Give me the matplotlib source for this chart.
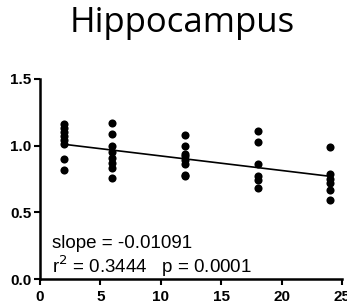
import matplotlib.pyplot as plt
import numpy as np

# Values (age groups vs. relative hippocampus value)
x_groups = [2, 6, 12, 18, 24]
y_values = [
    [1.16, 1.13, 1.10, 1.07, 1.04, 1.01, 0.90, 0.82],
    [1.17, 1.09, 1.00, 0.95, 0.91, 0.87, 0.83, 0.76],
    [1.08, 1.00, 0.94, 0.92, 0.89, 0.86, 0.78, 0.77],
    [1.11, 1.03, 0.86, 0.77, 0.74, 0.68],
    [0.99, 0.79, 0.75, 0.72, 0.67, 0.59],
]
slope = -0.01091
intercept = 1.032
r2 = 0.3444
p_value = 0.0001
x_ticks = [0, 5, 10, 15, 20, 25]
y_ticks = [0.0, 0.5, 1.0, 1.5]

fig = plt.figure(figsize=(3.47, 3.07), dpi=100)
ax = fig.add_axes([0.115, 0.0912, 0.871, 0.6515])

for xg, ys in zip(x_groups, y_values):
    ax.scatter([xg] * len(ys), ys, s=34, color='black', zorder=3, linewidths=0)

# Regression line across the data range
xl = np.array([x_groups[0], x_groups[-1]])
ax.plot(xl, intercept + slope * xl, color='black', lw=1.2, zorder=2)

ax.set_xlim(0, 25)
ax.set_ylim(0, 1.5)
ax.set_xticks(x_ticks)
ax.set_yticks(y_ticks)
ax.set_xticklabels([str(t) for t in x_ticks])
ax.set_yticklabels([f"{t:.1f}" for t in y_ticks])
for lab in ax.get_xticklabels() + ax.get_yticklabels():
    lab.set_fontfamily('Liberation Sans')
    lab.set_fontweight('bold')
    lab.set_fontsize(11)
ax.tick_params(direction='out', length=4, width=1.5)
ax.tick_params(axis='x', pad=4)
ax.tick_params(axis='y', pad=2)

for side in ['top', 'right']:
    ax.spines[side].set_visible(False)
for side in ['left', 'bottom']:
    ax.spines[side].set_linewidth(1.8)

ax.text(0.04, 0.155, f"slope = {slope}", transform=ax.transAxes,
        fontfamily='Liberation Sans', fontsize=13.5, va='baseline')
ax.text(0.04, 0.03, f"r$^2$ = {r2}   p = {p_value:.4f}", transform=ax.transAxes,
        fontfamily='Liberation Sans', fontsize=13.5, va='baseline')

fig.text(0.526, 0.895, "Hippocampus", ha='center', va='baseline',
         fontfamily='Open Sans', fontsize=25)

plt.savefig('out.png', dpi=100)
